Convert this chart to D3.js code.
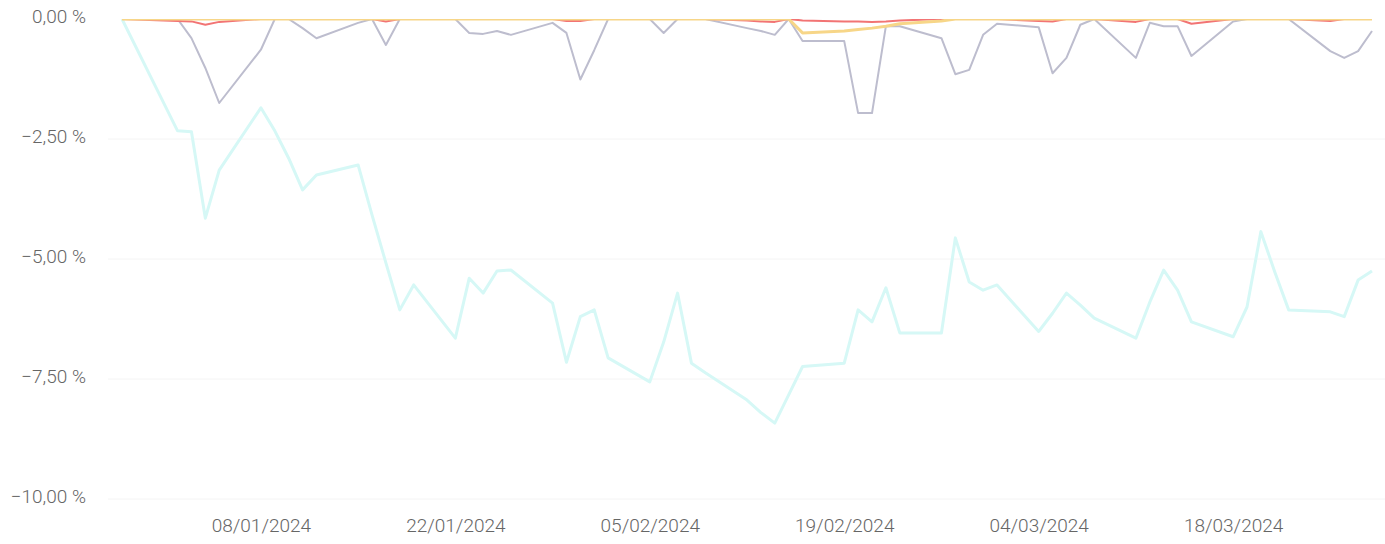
<!DOCTYPE html>
<html>
<head>
<meta charset="utf-8">
<script src="https://cdn.jsdelivr.net/npm/d3@7"></script>
<style>
  html, body { margin: 0; padding: 0; background: #ffffff; }
  svg { display: block; }
  .axis text { font-family: Roboto, "Liberation Sans", sans-serif; font-size: 19px; fill: #666666; font-weight: 300; }
</style>
</head>
<body>
<svg id="chart" width="1385" height="544"></svg>
<script>
// Trading calendar: weekdays from the first to the last session, minus market holidays
const firstSession = "2023-12-29";
const lastSession = "2024-03-28";
const holidays = ["2024-01-01"];

// Drawdown of each series (%), one value per trading session
const fundA = [
  0, -2.33, -2.35, -4.15, -3.15, -1.85, -2.33, -2.9, -3.56, -3.25,
  -3.04, -4.08, -5.08, -6.06, -5.54, -6.65, -5.4, -5.71, -5.25, -5.23,
  -5.92, -7.15, -6.2, -6.06, -7.06, -7.56, -6.73, -5.71, -7.17, -7.37,
  -7.94, -8.2, -8.42, -7.83, -7.24, -7.17, -6.06, -6.31, -5.6, -6.54,
  -6.54, -4.56, -5.48, -5.65, -5.54, -6.51, -6.13, -5.71, -5.96, -6.23,
  -6.65, -5.9, -5.23, -5.65, -6.31, -6.62, -6.0, -4.43, -5.27, -6.06,
  -6.1, -6.2, -5.44, -5.25
];
const fundB = [
  0, 0, -0.4, -1.02, -1.75, -0.64, 0, 0, -0.19, -0.4,
  -0.08, 0, -0.54, 0, 0, 0, -0.29, -0.31, -0.25, -0.33,
  -0.08, -0.29, -1.26, -0.65, 0, 0, -0.29, 0, 0, 0,
  -0.19, -0.25, -0.33, 0, -0.46, -0.46, -1.96, -1.96, -0.15, -0.15,
  -0.4, -1.15, -1.06, -0.33, -0.1, -0.17, -1.13, -0.81, -0.12, 0,
  -0.81, -0.08, -0.15, -0.15, -0.77, -0.05, 0, 0, 0, 0,
  -0.67, -0.81, -0.67, -0.25
];
const fundC = [
  0, -0.04, -0.05, -0.12, -0.06, 0, 0, 0, 0, 0,
  0, 0, -0.05, 0, 0, 0, 0, 0, 0, 0,
  0, -0.04, -0.04, 0, 0, 0, 0, 0, 0, 0,
  -0.03, -0.05, -0.06, 0, -0.03, -0.05, -0.05, -0.06, -0.05, -0.03,
  0, 0, 0, 0, 0, -0.04, -0.05, 0, 0, 0,
  -0.06, 0, 0, 0, -0.1, 0, 0, 0, 0, 0,
  -0.04, 0, 0, 0
];
const fundD = [
  0, 0, 0, 0, 0, 0, 0, 0, 0, 0,
  0, 0, 0, 0, 0, 0, 0, 0, 0, 0,
  0, 0, 0, 0, 0, 0, 0, 0, 0, 0,
  0, 0, 0, 0, -0.29, -0.25, -0.22, -0.19, -0.15, -0.1,
  -0.04, 0, 0, 0, 0, 0, 0, 0, 0, 0,
  0, 0, 0, 0, 0, 0, 0, 0, 0, 0,
  0, 0, 0, 0
];

// Axis ticks
const yTickValues = [0, -2.5, -5, -7.5, -10];
const xTickLabels = ["08/01/2024", "22/01/2024", "05/02/2024", "19/02/2024", "04/03/2024", "18/03/2024"];

const parseISO = d3.timeParse("%Y-%m-%d");
const fmtISO = d3.timeFormat("%Y-%m-%d");
const parseDMY = d3.timeParse("%d/%m/%Y");
const fmtDMY = d3.timeFormat("%d/%m/%Y");

const sessions = d3.timeDay
  .range(parseISO(firstSession), d3.timeDay.offset(parseISO(lastSession), 1))
  .filter(d => d.getDay() !== 0 && d.getDay() !== 6 && !holidays.includes(fmtISO(d)));

const series = [
  { name: "fundA", values: fundA, color: "#d6f8f6", width: 3 },
  { name: "fundB", values: fundB, color: "#bdbdce", width: 2 },
  { name: "fundC", values: fundC, color: "#f27474", width: 2 },
  { name: "fundD", values: fundD, color: "#f7d688", width: 3 }
];

const euro = d3.formatLocale({ decimal: ",", thousands: ".", grouping: [3], currency: ["", " €"] });
const pct = v => euro.format(".2f")(v) + " %";

const plot = { left: 122, right: 1372, top: 19, bottom: 499 };

const x = d3.scaleTime()
  .domain([parseISO(firstSession), parseISO(lastSession)])
  .range([plot.left, plot.right]);
const y = d3.scaleLinear()
  .domain([-10, 0])
  .range([plot.bottom, plot.top]);

const svg = d3.select("#chart");

// Faint horizontal grid (the 0 % line is covered by the series)
svg.append("g")
  .selectAll("line")
  .data(yTickValues.filter(v => v !== 0))
  .join("line")
  .attr("x1", 108)
  .attr("x2", 1385)
  .attr("y1", d => y(d))
  .attr("y2", d => y(d))
  .attr("stroke", "#f4f4f4")
  .attr("stroke-width", 1);

// Y axis
const yAxis = svg.append("g")
  .attr("class", "axis")
  .attr("transform", "translate(90,0)")
  .call(d3.axisLeft(y).tickValues(yTickValues).tickFormat(pct).tickSize(0).tickPadding(4));
yAxis.select(".domain").remove();
yAxis.selectAll("text").attr("dy", "0.2em");

// X axis
const xAxis = svg.append("g")
  .attr("class", "axis")
  .attr("transform", `translate(0,${plot.bottom})`)
  .call(d3.axisBottom(x).tickValues(xTickLabels.map(parseDMY)).tickFormat(fmtDMY).tickSize(0).tickPadding(20));
xAxis.select(".domain").remove();

// Clip to the plot area so lines sitting at 0 % are cut at the top edge
svg.append("clipPath")
  .attr("id", "plot-clip")
  .append("rect")
  .attr("x", plot.left - 2)
  .attr("y", plot.top)
  .attr("width", plot.right - plot.left + 4)
  .attr("height", plot.bottom - plot.top + 4);

const line = d3.line()
  .x((d, i) => x(sessions[i]))
  .y(d => y(d));

svg.append("g")
  .attr("clip-path", "url(#plot-clip)")
  .selectAll("path")
  .data(series)
  .join("path")
  .attr("fill", "none")
  .attr("stroke", d => d.color)
  .attr("stroke-width", d => d.width)
  .attr("stroke-linejoin", "round")
  .attr("d", d => line(d.values));
</script>
</body>
</html>
